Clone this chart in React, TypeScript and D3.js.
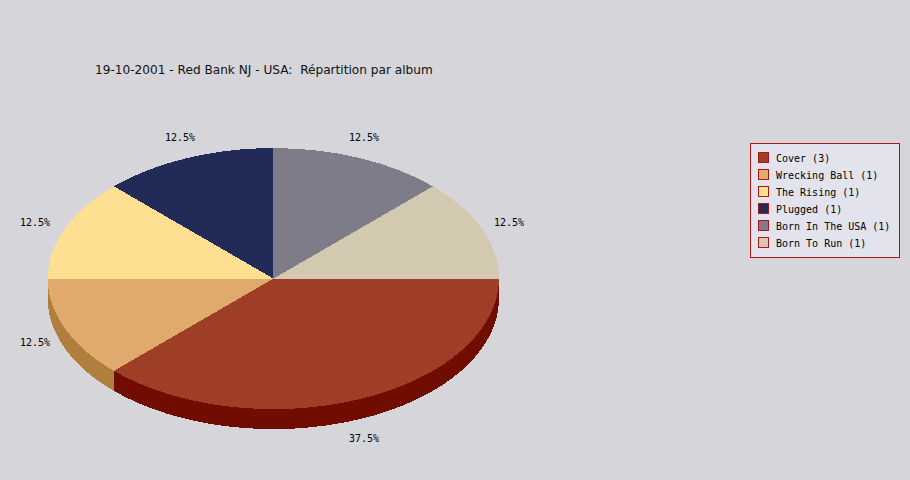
import * as d3 from "d3"

const albums = ["Cover", "Wrecking Ball", "The Rising", "Plugged", "Born In The USA", "Born To Run"]
const counts = [3, 1, 1, 1, 1, 1]
const colors = ["#9f3e27", "#dfaa6b", "#ffdf91", "#222a57", "#7d7c88", "#d3c9b0"]
const wallColors = ["#700c00", "#b07f3e", "#b89a5c", "#10152e", "#55545e", "#a09780"]
const title = "19-10-2001 - Red Bank NJ - USA:  Répartition par album"

const width = 910
const height = 480
const cx = 273.4
const cy = 278.6
const rx = 225.6
const ry = 130.5
const depth = 20
const mono = "'DejaVu Sans Mono', monospace"

const pie = d3
  .pie<number>()
  .sort(null)
  .startAngle(Math.PI / 2)
  .endAngle(Math.PI * 2.5)
const slices = pie(counts)
const total = d3.sum(counts)
const arc = d3.arc<d3.PieArcDatum<number>>().innerRadius(0).outerRadius(rx)

const px = (a: number) => cx + rx * Math.sin(a)
const py = (a: number) => cy - ry * Math.cos(a)

// outer wall of a slice, only the part facing the viewer
const wallPath = (a0: number, a1: number) => {
  const from = Math.max(a0, Math.PI / 2)
  const to = Math.min(a1, Math.PI * 1.5)
  if (to <= from) return null
  const large = to - from > Math.PI ? 1 : 0
  return (
    `M${px(from)},${py(from)}` +
    `A${rx},${ry} 0 ${large} 1 ${px(to)},${py(to)}` +
    `L${px(to)},${py(to) + depth}` +
    `A${rx},${ry} 0 ${large} 0 ${px(from)},${py(from) + depth}Z`
  )
}

const labelPos = (a: number) => {
  const s = Math.sin(a)
  const c = Math.cos(a)
  return {
    x: 273 + 268 * s - 11.6 * Math.sign(s) - (s < 0 ? 2 : 0),
    y: 279 - 157 * c + 3 + (c < -0.5 ? 11 : 0) + 4,
  }
}

const legendY = d3
  .scalePoint<string>()
  .domain(albums)
  .range([157, 242])

export default function App() {
  return (
    <svg
      width={width}
      height={height}
      style={{ position: "absolute", left: 0, top: 0, background: "#d5d5da" }}
    >
      <text x={95} y={74} fontFamily="'DejaVu Sans', sans-serif" fontSize={12.14} fill="#111" xmlSpace="preserve">
        {title}
      </text>

      <g shapeRendering="crispEdges">
        {slices.map((d, i) => {
          const wall = wallPath(d.startAngle, d.endAngle)
          return wall ? <path key={i} d={wall} fill={wallColors[i]} /> : null
        })}

        <g transform={`translate(${cx},${cy}) scale(1,${ry / rx})`}>
          {slices.map((d, i) => (
            <path key={i} d={arc(d) ?? ""} fill={colors[i]} />
          ))}
        </g>
      </g>

      {slices.map((d, i) => {
        const p = labelPos((d.startAngle + d.endAngle) / 2)
        return (
          <text key={i} x={p.x} y={p.y} textAnchor="middle" fontFamily={mono} fontSize={10} fill="#000">
            {`${((d.value / total) * 100).toFixed(1)}%`}
          </text>
        )
      })}

      <rect x={750.5} y={143.5} width={149} height={114} fill="#e2e3ec" stroke="#b01515" />
      {albums.map((name, i) => {
        const y = legendY(name) ?? 0
        return (
          <g key={name}>
            <rect x={758.5} y={y - 4.5} width={10} height={10} fill={colors[i]} stroke="#b01515" />
            <text x={776} y={y + 5} fontFamily={mono} fontSize={10} fill="#000">
              {`${name} (${counts[i]})`}
            </text>
          </g>
        )
      })}
    </svg>
  )
}
